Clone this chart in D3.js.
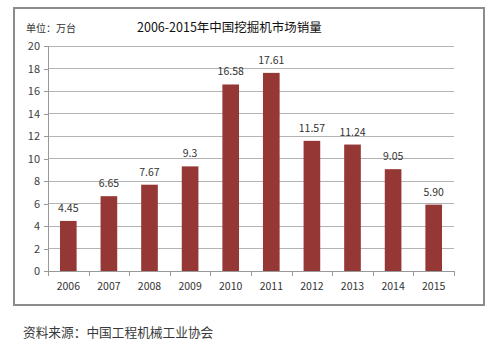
<!DOCTYPE html>
<html><head><meta charset="utf-8">
<script src="https://cdn.jsdelivr.net/npm/d3@7"></script>
<style>body{margin:0;background:#fff}svg{display:block}text{font-family:"Noto Sans CJK SC","Noto Sans",sans-serif}</style>
</head><body>
<svg id="c" width="495" height="341"></svg>
<script>
const years = ["2006","2007","2008","2009","2010","2011","2012","2013","2014","2015"];
const sales = [4.45,6.65,7.67,9.3,16.58,17.61,11.57,11.24,9.05,5.90];
const labels = ["4.45","6.65","7.67","9.3","16.58","17.61","11.57","11.24","9.05","5.90"];
const yTicks = [0,2,4,6,8,10,12,14,16,18,20];
const titleText = "2006-2015年中国挖掘机市场销量";
const unitText = "单位：万台";
const sourceText = "资料来源：中国工程机械工业协会";

const svg = d3.select("#c");
svg.append("rect").attr("x",14).attr("y",8).attr("width",470).attr("height",297)
  .attr("fill","#fff").attr("stroke","#8c8c8c").attr("stroke-width",2);

const x = d3.scaleBand().domain(years).range([48,454]).paddingInner(0.59).paddingOuter(0.295);
const xb = d3.scaleBand().domain(years).range([48,454]);
const y = d3.scaleLinear().domain([0,20]).range([271,46]);

// gridlines
svg.append("g").selectAll("line").data(yTicks.filter(d=>d>0)).join("line")
  .attr("x1",48).attr("x2",454).attr("y1",d=>y(d)).attr("y2",d=>y(d))
  .attr("stroke","#b3b3b3").attr("stroke-width",1).attr("shape-rendering","crispEdges");

// y axis
const ya = svg.append("g").attr("transform","translate(48,0)")
  .call(d3.axisLeft(y).tickValues(yTicks).tickSize(4).tickPadding(4));
ya.select(".domain").attr("stroke","#999").attr("shape-rendering","crispEdges");
ya.selectAll(".tick line").attr("stroke","#999").attr("shape-rendering","crispEdges");
ya.selectAll("text").attr("fill","#404040").attr("font-size",11).attr("font-family","Lato, 'Noto Sans', sans-serif");

// bars
svg.append("g").selectAll("rect").data(sales).join("rect")
  .attr("x",(d,i)=>x(years[i])).attr("width",x.bandwidth())
  .attr("y",d=>y(d)).attr("height",d=>y(0)-y(d)).attr("fill","#953735");

// data labels
svg.append("g").selectAll("text").data(sales).join("text")
  .attr("x",(d,i)=>x(years[i])+x.bandwidth()/2).attr("y",d=>y(d)-9)
  .attr("text-anchor","middle").attr("font-size",10.5).attr("fill","#333")
  .attr("font-family","Lato, 'Noto Sans', sans-serif")
  .text((d,i)=>labels[i]);

// x axis
const xa = svg.append("g").attr("transform","translate(0,271)")
  .call(d3.axisBottom(xb).tickSize(0).tickPadding(12));
xa.select(".domain").attr("stroke","#999").attr("shape-rendering","crispEdges");
xa.selectAll("text").attr("fill","#333").attr("font-size",10.5).attr("font-family","Lato, 'Noto Sans', sans-serif");
// boundary ticks
const bounds = years.map(d=>xb(d)).concat([454]);
svg.append("g").selectAll("line").data(bounds).join("line")
  .attr("x1",d=>Math.round(d)+0.5).attr("x2",d=>Math.round(d)+0.5).attr("y1",271).attr("y2",276)
  .attr("stroke","#999");

svg.append("text").attr("x",26).attr("y",32).attr("font-size",10).attr("fill","#333").text(unitText);
svg.append("text").attr("x",137).attr("y",32).attr("font-size",12.5).attr("fill","#111").text(titleText);
svg.append("text").attr("x",23).attr("y",337).attr("font-size",12.7).attr("fill","#3a3a3a").text(sourceText);
</script>
</body></html>
